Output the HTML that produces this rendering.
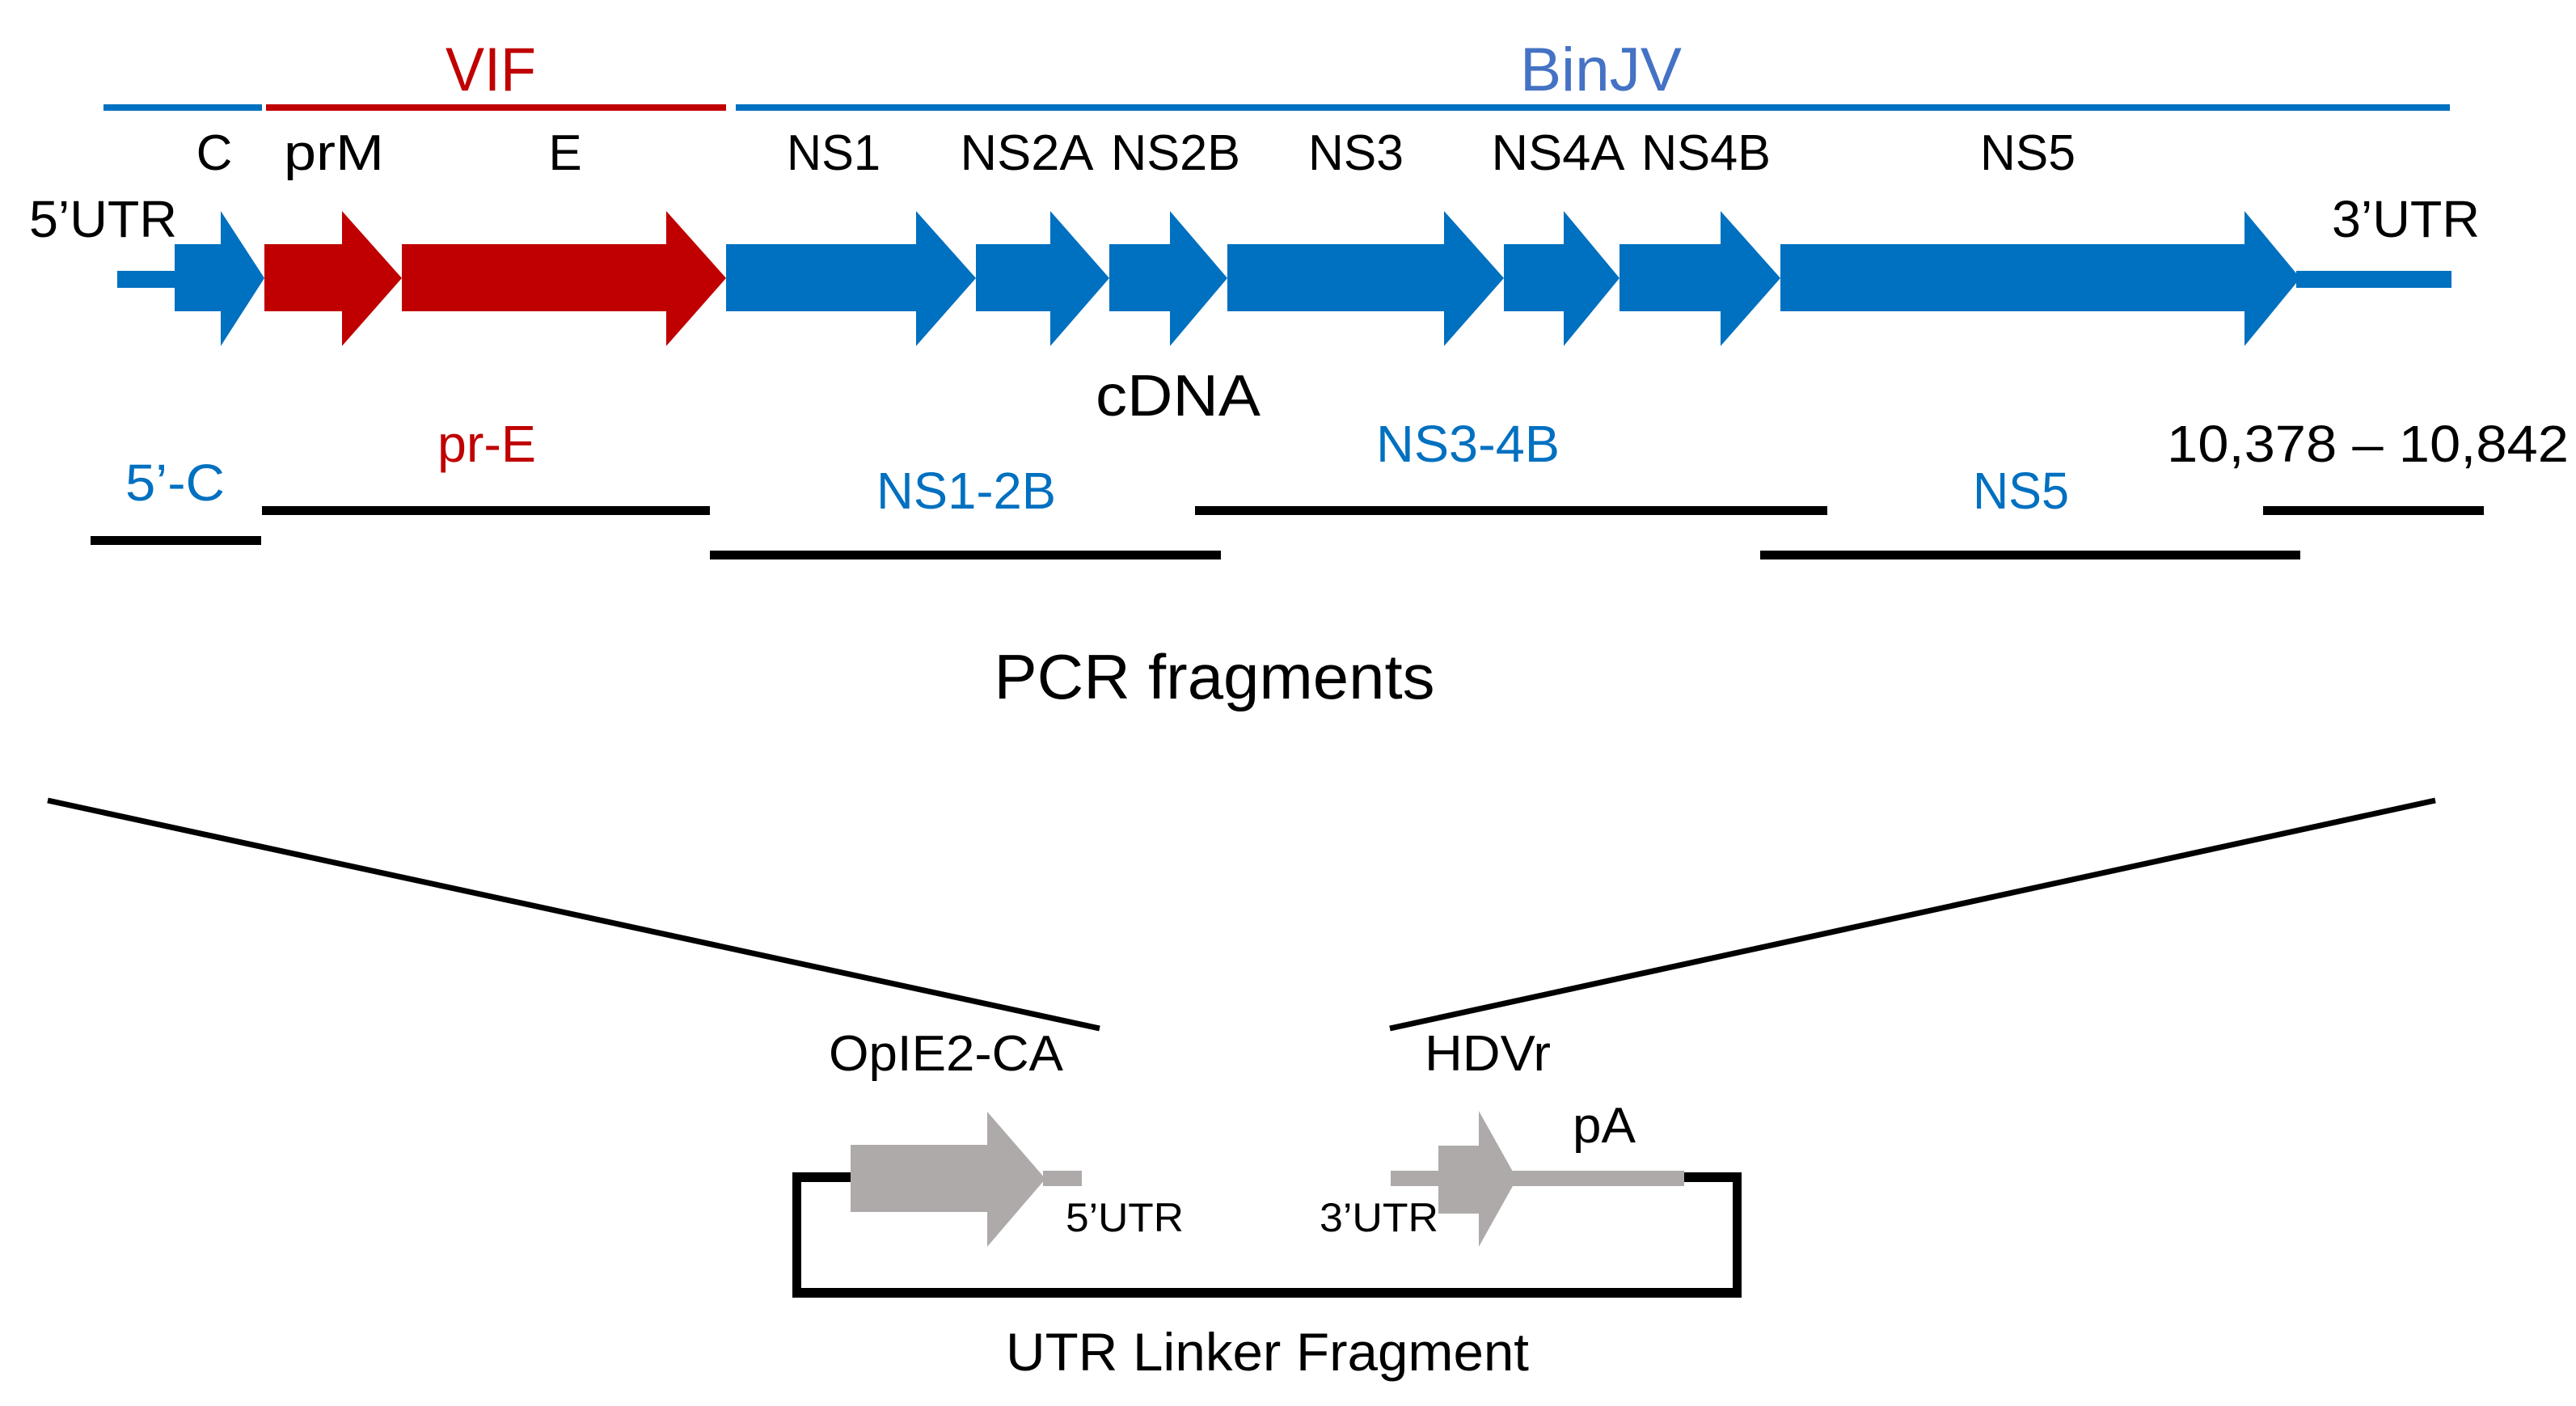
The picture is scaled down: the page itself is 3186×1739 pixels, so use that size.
<!DOCTYPE html>
<html><head><meta charset="utf-8"><style>
html,body{margin:0;padding:0;background:#fff}
svg{display:block}
text{font-family:"Liberation Sans",sans-serif}
</style></head><body>
<svg width="3186" height="1739" viewBox="0 0 3186 1739" xmlns="http://www.w3.org/2000/svg">
<rect width="3186" height="1739" fill="#fff"/>
<!-- top bars -->
<rect x="128" y="129" width="196" height="8" fill="#0070C0"/>
<rect x="329" y="129" width="569" height="8" fill="#C00000"/>
<rect x="910" y="129" width="2120" height="8" fill="#0070C0"/>
<text x="607" y="112" font-size="76" fill="#C00000" text-anchor="middle" textLength="112" lengthAdjust="spacingAndGlyphs">VIF</text>
<text x="1980" y="112" font-size="76" fill="#4472C4" text-anchor="middle" textLength="200" lengthAdjust="spacingAndGlyphs">BinJV</text>
<!-- gene labels -->
<g font-size="62" fill="#000" text-anchor="middle">
<text x="265" y="210">C</text>
<text x="413" y="210" textLength="124" lengthAdjust="spacingAndGlyphs">prM</text>
<text x="699" y="210">E</text>
<text x="1031" y="210" textLength="116" lengthAdjust="spacingAndGlyphs">NS1</text>
<text x="1270" y="210" textLength="165" lengthAdjust="spacingAndGlyphs">NS2A</text>
<text x="1454" y="210" textLength="160" lengthAdjust="spacingAndGlyphs">NS2B</text>
<text x="1677" y="210" textLength="118" lengthAdjust="spacingAndGlyphs">NS3</text>
<text x="1927" y="210" textLength="165" lengthAdjust="spacingAndGlyphs">NS4A</text>
<text x="2110" y="210" textLength="160" lengthAdjust="spacingAndGlyphs">NS4B</text>
<text x="2508" y="210" textLength="118" lengthAdjust="spacingAndGlyphs">NS5</text>
</g>
<text x="36" y="293" font-size="64" textLength="183" lengthAdjust="spacingAndGlyphs">5’UTR</text>
<text x="2884" y="293" font-size="64" textLength="183" lengthAdjust="spacingAndGlyphs">3’UTR</text>
<!-- genome arrows -->
<rect x="145" y="335" width="75" height="21" fill="#0070C0"/>
<rect x="2840" y="335" width="192" height="21" fill="#0070C0"/>
<g>
<polygon fill="#0070C0" points="216,302 273,302 273,261 327,344 273,428 273,385 216,385"/>
<polygon fill="#C00000" points="327,302 423,302 423,261 497,344 423,428 423,385 327,385"/>
<polygon fill="#C00000" points="497,302 824,302 824,261 898,344 824,428 824,385 497,385"/>
<polygon fill="#0070C0" points="898,302 1133,302 1133,261 1207,344 1133,428 1133,385 898,385"/>
<polygon fill="#0070C0" points="1207,302 1299,302 1299,261 1372,344 1299,428 1299,385 1207,385"/>
<polygon fill="#0070C0" points="1372,302 1447,302 1447,261 1518,344 1447,428 1447,385 1372,385"/>
<polygon fill="#0070C0" points="1518,302 1786,302 1786,261 1860,344 1786,428 1786,385 1518,385"/>
<polygon fill="#0070C0" points="1860,302 1934,302 1934,261 2003,344 1934,428 1934,385 1860,385"/>
<polygon fill="#0070C0" points="2003,302 2128,302 2128,261 2202,344 2128,428 2128,385 2003,385"/>
<polygon fill="#0070C0" points="2202,302 2776,302 2776,261 2845,344 2776,428 2776,385 2202,385"/>
</g>
<text x="1457" y="514" font-size="72" text-anchor="middle" textLength="204" lengthAdjust="spacingAndGlyphs">cDNA</text>
<!-- fragments -->
<g font-size="64">
<text x="155" y="619" fill="#0070C0" textLength="123" lengthAdjust="spacingAndGlyphs">5’-C</text>
<text x="541" y="571" fill="#C00000" textLength="122" lengthAdjust="spacingAndGlyphs">pr-E</text>
<text x="1084" y="629" fill="#0070C0" textLength="222" lengthAdjust="spacingAndGlyphs">NS1-2B</text>
<text x="1702" y="571" fill="#0070C0" textLength="227" lengthAdjust="spacingAndGlyphs">NS3-4B</text>
<text x="2440" y="629" fill="#0070C0" textLength="119" lengthAdjust="spacingAndGlyphs">NS5</text>
<text x="2680" y="571" fill="#000" textLength="497" lengthAdjust="spacingAndGlyphs">10,378 – 10,842</text>
</g>
<g fill="#000">
<rect x="112" y="663" width="211" height="11"/>
<rect x="324" y="626" width="554" height="11"/>
<rect x="878" y="681" width="632" height="11"/>
<rect x="1478" y="626" width="782" height="11"/>
<rect x="2177" y="681" width="668" height="11"/>
<rect x="2799" y="626" width="273" height="11"/>
</g>
<text x="1502" y="864" font-size="78" text-anchor="middle" textLength="545" lengthAdjust="spacingAndGlyphs">PCR fragments</text>
<!-- diagonals -->
<line x1="59" y1="990" x2="1360" y2="1272" stroke="#000" stroke-width="7"/>
<line x1="1719" y1="1272" x2="3012" y2="990" stroke="#000" stroke-width="7"/>
<text x="1025" y="1324" font-size="62" textLength="290" lengthAdjust="spacingAndGlyphs">OpIE2-CA</text>
<text x="1762" y="1324" font-size="62" textLength="156" lengthAdjust="spacingAndGlyphs">HDVr</text>
<!-- linker box -->
<g fill="#000">
<rect x="980" y="1450" width="74" height="12"/>
<rect x="2081" y="1450" width="73" height="12"/>
<rect x="980" y="1450" width="11" height="154"/>
<rect x="2143" y="1450" width="11" height="154"/>
<rect x="980" y="1593" width="174" height="12"/>
<rect x="980" y="1593" width="1174" height="12"/>
</g>
<g fill="#AEAAAA">
<polygon points="1052,1416 1221,1416 1221,1375 1293,1458 1221,1542 1221,1499 1052,1499"/>
<rect x="1290" y="1448" width="48" height="19"/>
<rect x="1720" y="1448" width="62" height="19"/>
<polygon points="1779,1417 1829,1417 1829,1374 1876,1458 1829,1542 1829,1501 1779,1501"/>
<rect x="1870" y="1448" width="213" height="19"/>
</g>
<text x="1318" y="1523" font-size="50" textLength="146" lengthAdjust="spacingAndGlyphs">5’UTR</text>
<text x="1632" y="1523" font-size="50" textLength="147" lengthAdjust="spacingAndGlyphs">3’UTR</text>
<text x="1945" y="1413" font-size="62" textLength="78" lengthAdjust="spacingAndGlyphs">pA</text>
<text x="1244" y="1695" font-size="66" textLength="647" lengthAdjust="spacingAndGlyphs">UTR Linker Fragment</text>
</svg>
</body></html>
